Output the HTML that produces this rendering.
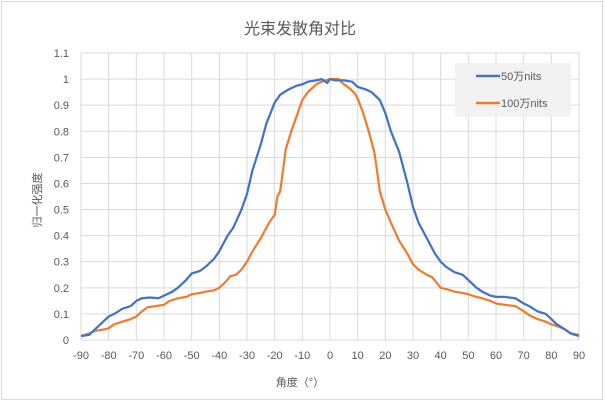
<!DOCTYPE html>
<html><head><meta charset="utf-8"><style>
body{margin:0;background:#fff;}
svg text{font-family:"Liberation Sans","Noto Sans CJK SC",sans-serif;fill:#595959;}
</style></head><body>
<svg width="605" height="402" xmlns="http://www.w3.org/2000/svg">
<rect x="1.5" y="1.5" width="601" height="398" fill="#fff" stroke="#d9d9d9"/>
<text x="300" y="34" font-size="16" text-anchor="middle" fill="#404040">光束发散角对比</text>
<g id="grid"></g><g id="axes"></g><g id="series"></g>
<g>
<rect x="455" y="63" width="116" height="54" fill="#f2f2f2"/>
<line x1="476" y1="76" x2="500" y2="76" stroke="#4472c4" stroke-width="2.5"/>
<text x="501" y="80" font-size="11">50万nits</text>
<line x1="476" y1="103" x2="500" y2="103" stroke="#ed7d31" stroke-width="2.5"/>
<text x="501" y="107" font-size="11">100万nits</text>
</g>
<text x="300" y="386" font-size="11" text-anchor="middle">角度（°）</text>
<text transform="translate(41,200) rotate(-90)" font-size="11" text-anchor="middle">归一化强度</text>
</svg>
<script>
const xTicks=[-90,-80,-70,-60,-50,-40,-30,-20,-10,0,10,20,30,40,50,60,70,80,90];
const yTicks=[0,0.1,0.2,0.3,0.4,0.5,0.6,0.7,0.8,0.9,1,1.1];
const yTickLabels=["0","0.1","0.2","0.3","0.4","0.5","0.6","0.7","0.8","0.9","1","1.1"];
const blueX=[-90,-87,-85,-82,-80,-78,-75,-72,-70,-68,-65,-62,-60,-57,-55,-52,-50,-47,-45,-42,-40,-37,-35,-32,-30,-28,-25,-23,-20,-18,-15,-12,-10,-8,-5,-3,-1,0,2,5,8,10,13,15,18,20,22,25,28,30,32,35,38,40,42,45,48,50,53,55,58,60,63,67,70,72,75,78,80,82,85,87,90];
const blueY=[0.015,0.02,0.04,0.07,0.09,0.1,0.12,0.13,0.15,0.16,0.163,0.16,0.17,0.185,0.2,0.23,0.255,0.265,0.28,0.31,0.34,0.4,0.43,0.5,0.56,0.65,0.75,0.83,0.91,0.94,0.96,0.975,0.98,0.99,0.995,1.0,0.985,1.0,0.995,0.995,0.99,0.97,0.96,0.95,0.92,0.87,0.8,0.72,0.6,0.51,0.45,0.39,0.33,0.3,0.28,0.26,0.25,0.23,0.2,0.185,0.17,0.165,0.165,0.16,0.14,0.13,0.11,0.1,0.08,0.06,0.04,0.025,0.015];
const orangeX=[-90,-87,-85,-82,-80,-78,-75,-72,-70,-68,-66,-63,-60,-58,-55,-52,-50,-47,-45,-42,-40,-38,-36,-34,-32,-30,-28,-25,-22,-20,-19,-18,-17,-16,-14,-12,-10,-8,-5,-3,0,3,5,7,9,10,12,14,16,17,18,20,22,25,28,30,32,35,37,40,42,45,48,50,53,55,58,60,63,67,70,72,75,78,80,83,85,87,90];
const orangeY=[0.015,0.025,0.035,0.04,0.045,0.06,0.07,0.08,0.09,0.11,0.125,0.13,0.135,0.15,0.16,0.165,0.175,0.18,0.185,0.19,0.2,0.22,0.245,0.25,0.27,0.3,0.34,0.39,0.45,0.48,0.55,0.57,0.65,0.73,0.8,0.86,0.92,0.95,0.98,0.99,1.0,1.0,0.98,0.965,0.945,0.925,0.87,0.8,0.72,0.65,0.57,0.5,0.45,0.38,0.33,0.29,0.27,0.25,0.24,0.2,0.195,0.185,0.18,0.175,0.165,0.16,0.15,0.14,0.135,0.13,0.11,0.095,0.08,0.07,0.06,0.05,0.04,0.025,0.02];
const NS="http://www.w3.org/2000/svg";
const X0=81,X1=579,Y0=340,Y1=53;
function xs(v){return X0+(v+90)/180*(X1-X0);}
function ys(v){return Y0-v/1.1*(Y0-Y1);}
const grid=document.getElementById('grid'),axes=document.getElementById('axes'),series=document.getElementById('series');
function mk(t,a,p){const e=document.createElementNS(NS,t);for(const k in a)e.setAttribute(k,a[k]);p.appendChild(e);return e;}
xTicks.forEach(v=>{
 const l=mk('line',{x1:xs(v),x2:xs(v),y1:Y1,y2:Y0,stroke:'#d9d9d9','stroke-width':1},grid);
 
 
 const t=mk('text',{x:xs(v),y:Y0+19,'font-size':11,'text-anchor':'middle'},axes);
 t.textContent=v;
 
 
});
yTicks.forEach((v,i)=>{
 const l=mk('line',{x1:X0,x2:X1,y1:ys(v),y2:ys(v),stroke:'#d9d9d9','stroke-width':1},grid);
 
 
 const t=mk('text',{x:X0-12,y:ys(v)+4,'font-size':11,'text-anchor':'end'},axes);
 t.textContent=yTickLabels[i];
 
 
});
function line(xa,ya,c,n){
 const d=xa.map((x,i)=>(i?'L':'M')+xs(x).toFixed(1)+','+ys(ya[i]).toFixed(1)).join('');
 const p=mk('path',{d:d,fill:'none',stroke:c,'stroke-width':2.25,'stroke-linejoin':'round'},series);
 
 
}
line(orangeX,orangeY,'#ed7d31','series-100wan-nits');
line(blueX,blueY,'#4472c4','series-50wan-nits');
</script>
</body></html>
